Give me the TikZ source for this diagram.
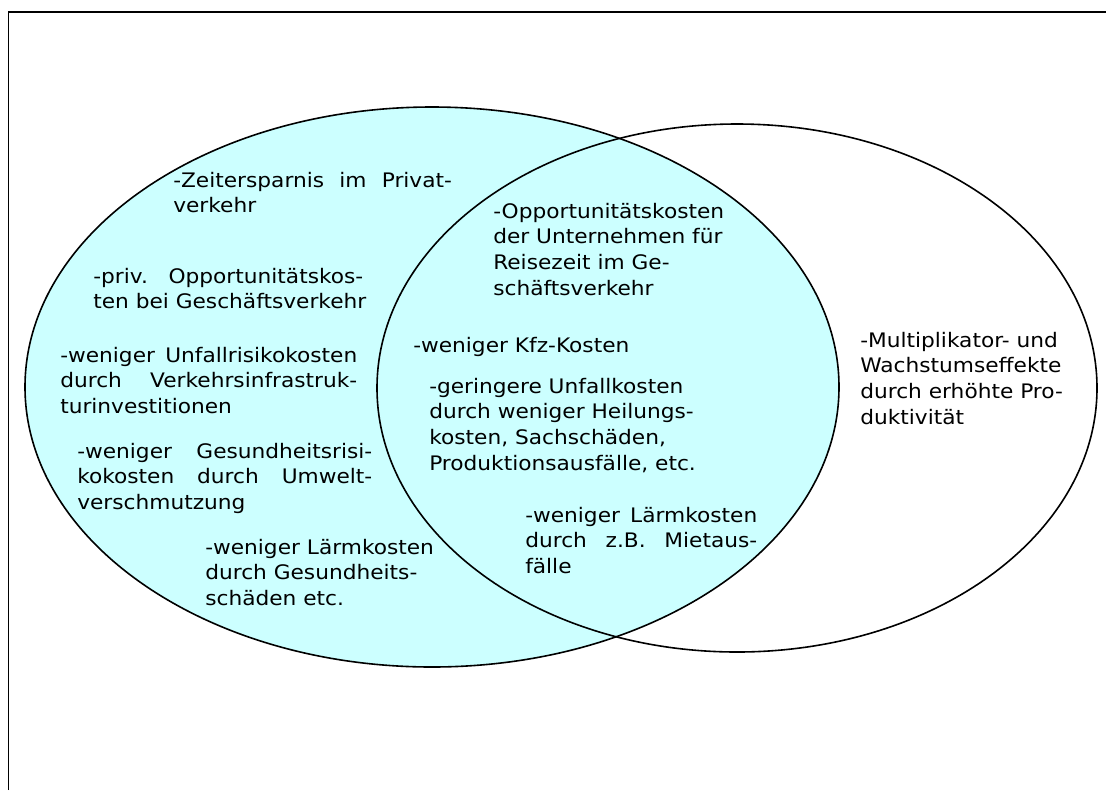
\documentclass[tikz,border=0pt]{standalone}
\usepackage{fontspec}
\setmainfont[FakeStretch=1.085]{DejaVu Sans}
\definecolor{lightcyan}{RGB}{204,255,255}
\newcommand{\jline}[2]{\makebox[#1][s]{#2}}
\begin{document}
\begin{tikzpicture}[x=0.75pt,y=-0.75pt,
  blk/.style={anchor=base west, inner sep=0pt, font=\fontsize{15pt}{19.35pt}\selectfont},
  ell/.style={line width=1.2pt}]
\useasboundingbox (0,0) rectangle (1106,790);
% frame
\draw[line width=0.8pt] (8.5,790) -- (8.5,12) -- (1106,12);
% ellipses
\fill[lightcyan] (432,387) ellipse [x radius=305.25pt, y radius=210pt];
\draw[ell] (737,388) ellipse [x radius=270pt, y radius=198pt];
\draw[ell] (432,387) ellipse [x radius=305.25pt, y radius=210pt];
% texts
\node[blk] (a) at (173,187) {\parbox[t]{320pt}{\raggedright\jline{209pt}{-Zeitersparnis im Privat-}\\verkehr}};
\node[blk] (b) at (93,283) {\parbox[t]{320pt}{\raggedright\jline{202.5pt}{-priv. Opportunitätskos-}\\ten bei Geschäftsverkehr}};
\node[blk] (c) at (60,362) {\parbox[t]{320pt}{\raggedright\jline{222.75pt}{-weniger Unfallrisikokosten}\\\jline{222.75pt}{durch Verkehrsinfrastruk-}\\turinvestitionen}};
\node[blk] (d) at (77,458) {\parbox[t]{320pt}{\raggedright\jline{221.25pt}{-weniger Gesundheitsrisi-}\\\jline{221.25pt}{kokosten durch Umwelt-}\\verschmutzung}};
\node[blk] (e) at (205,554) {\parbox[t]{320pt}{\raggedright -weniger Lärmkosten\\durch Gesundheits-\\schäden etc.}};
\node[blk] (f) at (493,218) {\parbox[t]{320pt}{\raggedright -Opportunitätskosten\\der Unternehmen für\\Reisezeit im Ge-\\schäftsverkehr}};
\node[blk] (g) at (413,352) {\parbox[t]{320pt}{\raggedright -weniger Kfz-Kosten}};
\node[blk] (h) at (429,393) {\parbox[t]{320pt}{\raggedright -geringere Unfallkosten\\durch weniger Heilungs-\\kosten, Sachschäden,\\Produktionsausfälle, etc.}};
\node[blk] (i) at (525,522) {\parbox[t]{320pt}{\raggedright\jline{174pt}{-weniger Lärmkosten}\\\jline{174pt}{durch z.B. Mietaus-}\\fälle}};
\node[blk] (j) at (860,347) {\parbox[t]{200pt}{\raggedright -Multiplikator- und\\Wachstumseffekte\\durch erhöhte Pro-\\duktivität}};
\end{tikzpicture}
\end{document}
